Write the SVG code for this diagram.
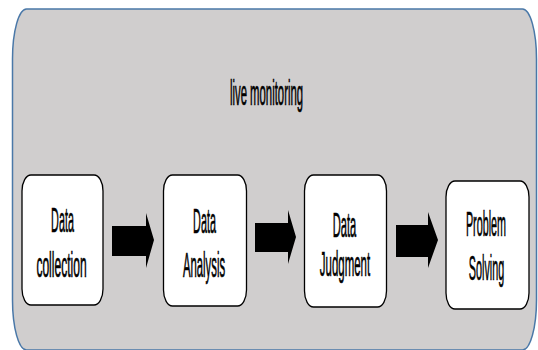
<svg xmlns="http://www.w3.org/2000/svg" width="538" height="350" viewBox="0 0 538 350">
<style>
.t{font-family:"Liberation Sans",Arial,sans-serif;font-size:36px;fill:#000;stroke:#000;stroke-width:0.5;text-anchor:middle}
.box{fill:#fff;stroke:#000;stroke-width:1.3}
.arr{fill:#000}
</style>
<rect width="538" height="350" fill="#fff"/>
<g id="container">
<rect x="12.5" y="9" width="524" height="341" rx="14" ry="50" fill="#D0CECE" stroke="#4A78A8" stroke-width="1.5"/>
<text class="t" transform="translate(266.5,105) scale(0.315,1)" vector-effect="non-scaling-stroke">live monitoring</text>
</g>
<g id="node1">
<rect class="box" x="22" y="175" width="81" height="130" rx="9" ry="16"/>
<text class="t" transform="translate(62.5,232) scale(0.3,1)" vector-effect="non-scaling-stroke">Data</text>
<text class="t" transform="translate(61.5,277) scale(0.335,1)" vector-effect="non-scaling-stroke">collection</text>
</g>
<g id="node2">
<rect class="box" x="163.5" y="175" width="83" height="131" rx="9" ry="16"/>
<text class="t" transform="translate(204.5,233) scale(0.3,1)" vector-effect="non-scaling-stroke">Data</text>
<text class="t" transform="translate(204,277) scale(0.315,1)" vector-effect="non-scaling-stroke">Analysis</text>
</g>
<g id="node3">
<rect class="box" x="304.5" y="175" width="82" height="132" rx="9" ry="16"/>
<text class="t" transform="translate(344.5,237) scale(0.31,1)" vector-effect="non-scaling-stroke">Data</text>
<text class="t" transform="translate(345,276) scale(0.318,1)" vector-effect="non-scaling-stroke">Judgment</text>
</g>
<g id="node4">
<rect class="box" x="446" y="181" width="83" height="128" rx="9" ry="16"/>
<text class="t" transform="translate(486,236) scale(0.3,1)" vector-effect="non-scaling-stroke">Problem</text>
<text class="t" transform="translate(486.5,280) scale(0.3,1)" vector-effect="non-scaling-stroke">Solving</text>
</g>
<g id="connectors">
<polygon class="arr" points="112,226 146,226 146,213 154,240 146,268 146,256 112,256"/>
<polygon class="arr" points="255,223 288,223 288,210 296,237 288,264 288,252 255,252"/>
<polygon class="arr" points="396,225 428,225 428,212 438,240 428,268 428,257 396,257"/>
</g>
</svg>
